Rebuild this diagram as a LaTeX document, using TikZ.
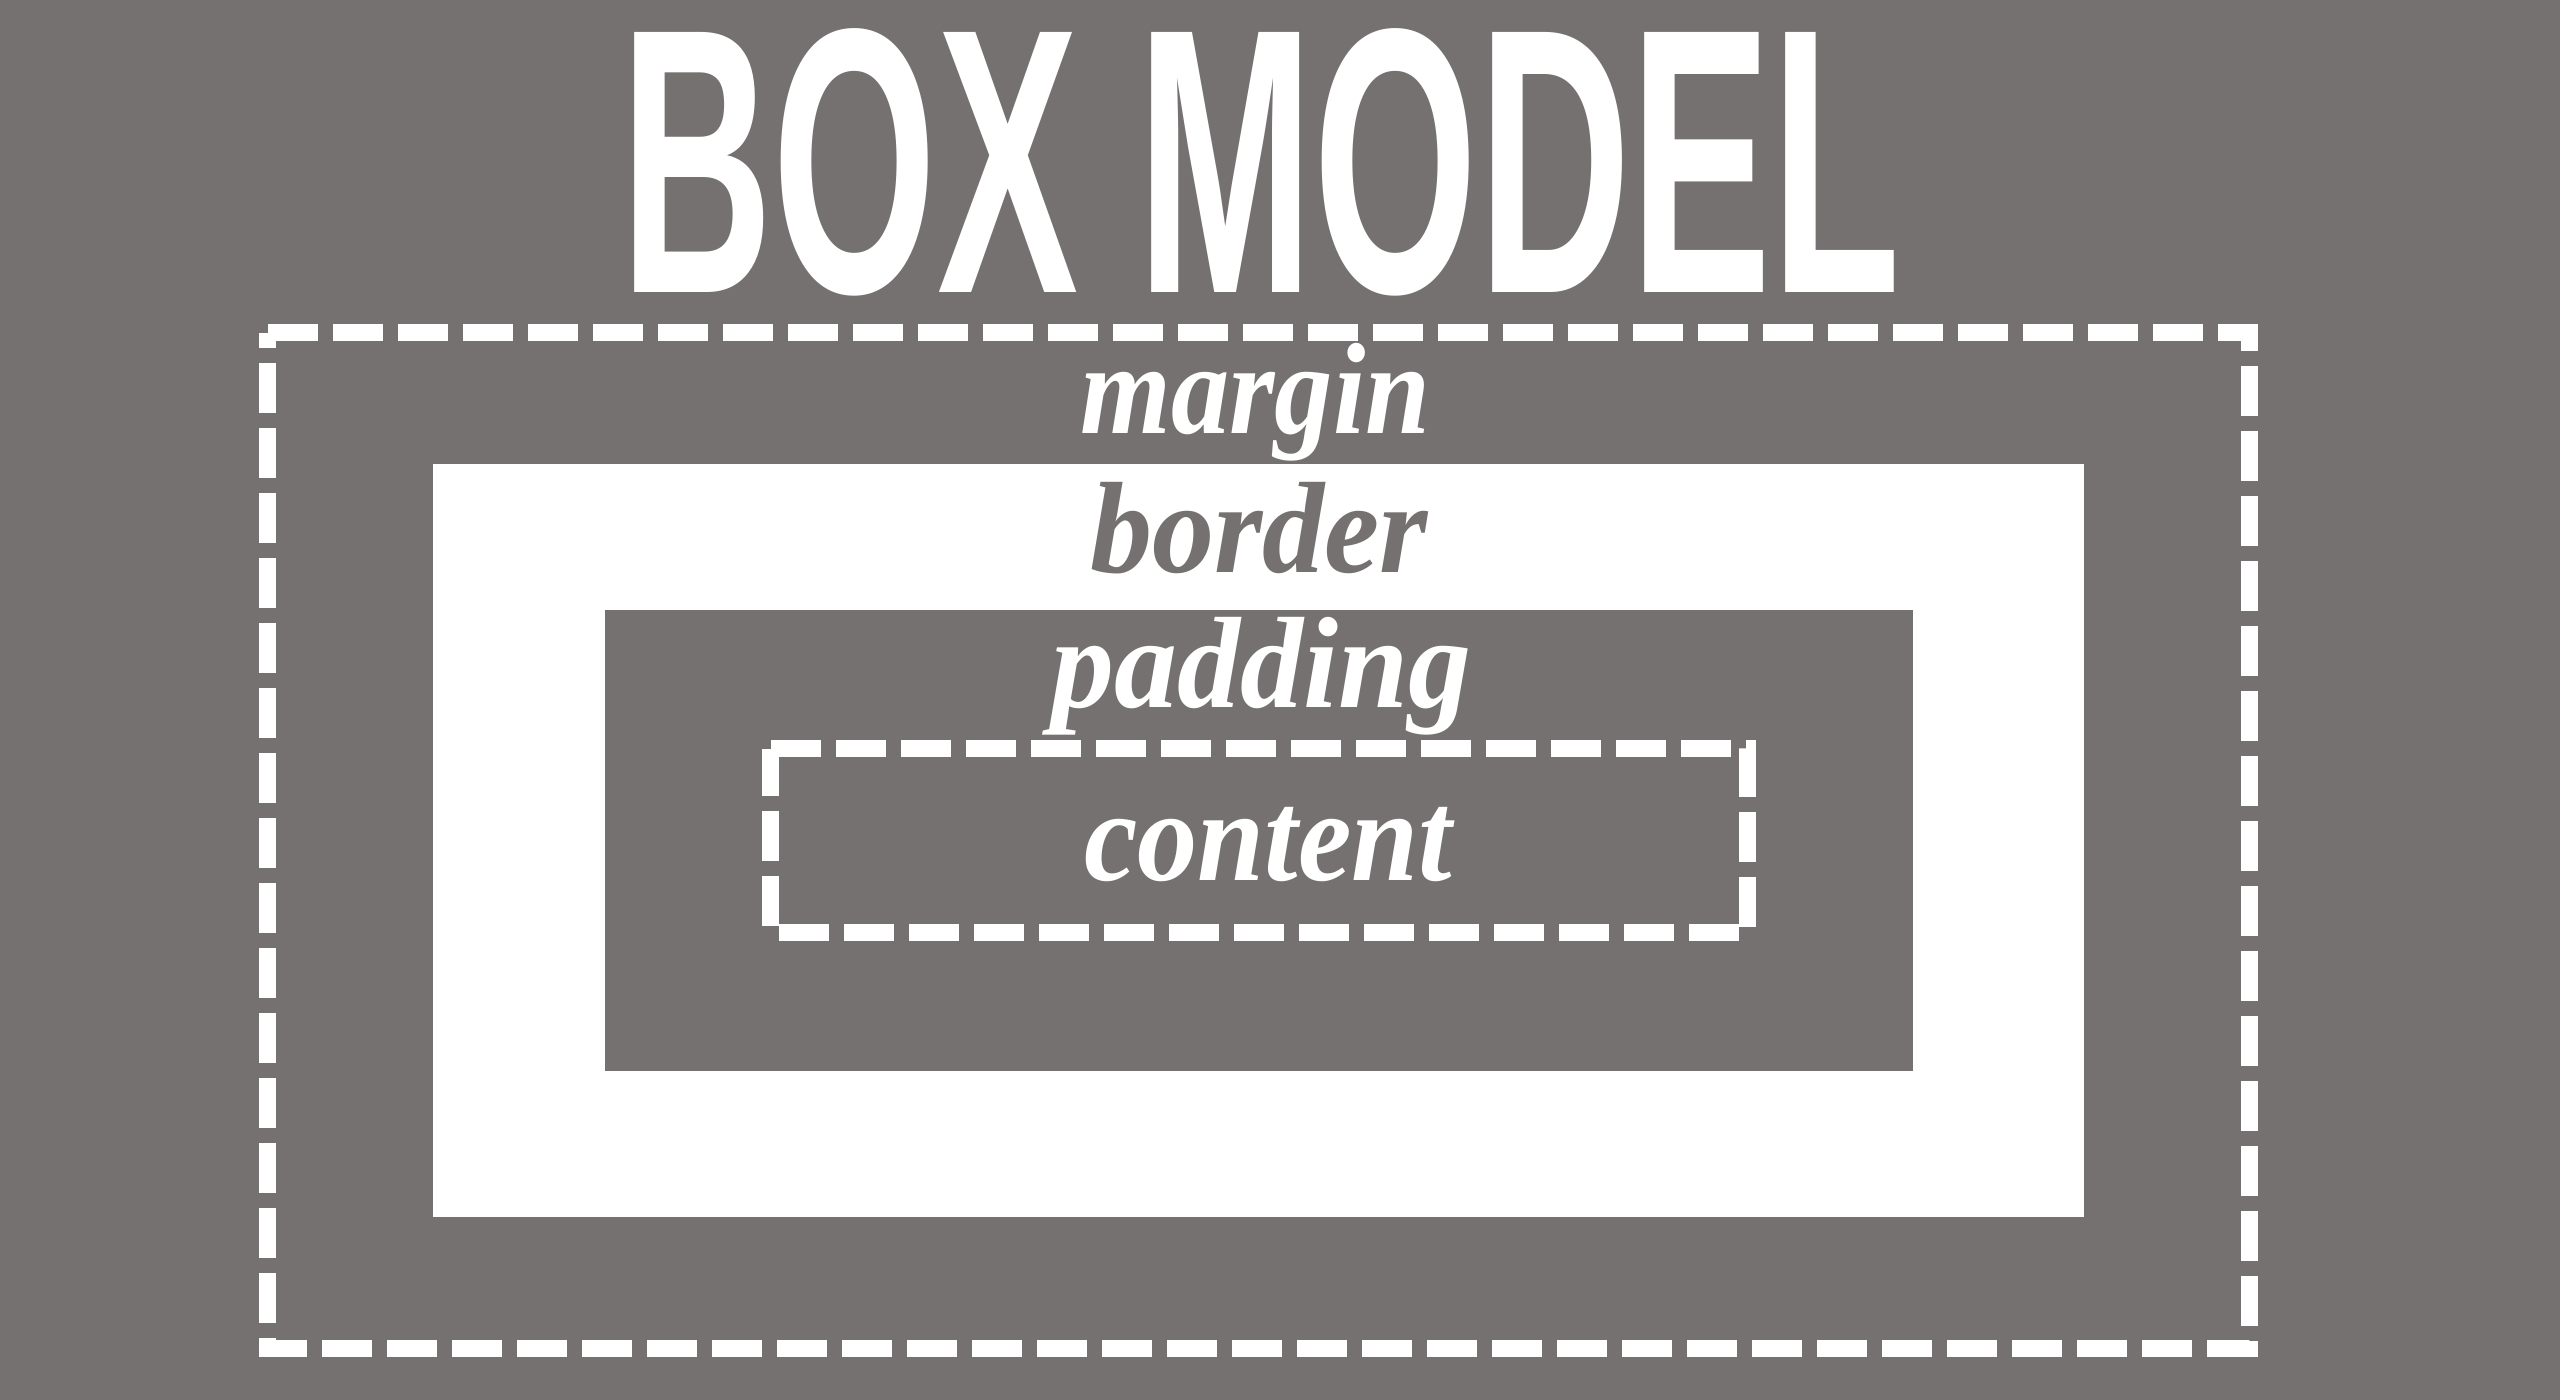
\documentclass[tikz,border=0pt]{standalone}
\usepackage{fontspec}
\usepackage{graphicx}
\newfontfamily\titlefont{Liberation Sans}
\newfontfamily\labelfont{Liberation Serif}
\definecolor{bggrey}{RGB}{117,113,112}
\begin{document}
\begin{tikzpicture}[x=1pt,y=-1pt,
  dashline/.style={draw=white,line width=17pt,dash pattern=on 50pt off 15pt,line join=miter,line cap=butt},
  lbl/.style={inner sep=0pt,anchor=base,font=\labelfont\bfseries\itshape\fontsize{130}{135}\selectfont}]
\useasboundingbox (0,0) rectangle (2560,1400);
\fill[bggrey] (0,0) rectangle (2560,1400);
% title
\node[inner sep=0pt,anchor=north west,text=white] (title) at (620,28)
  {\resizebox*{1280pt}{267pt}{\titlefont\bfseries BOX MODEL}};
% margin box (dashed)
\coordinate (m1) at (267.5,332.5);
\coordinate (m2) at (2249.5,332.5);
\coordinate (m3) at (2249.5,1348);
\coordinate (m4) at (267.5,1348);
\draw[dashline] (m1) -- (m2) -- (m3) -- (m4) -- cycle;
% border (white)
\fill[white] (433,464) rectangle (2084,1217);
% padding (grey)
\fill[bggrey] (605,610) rectangle (1913,1071);
% content box (dashed)
\coordinate (c1) at (770.5,748.5);
\coordinate (c2) at (1747.5,748.5);
\coordinate (c3) at (1747.5,932.5);
\coordinate (c4) at (770.5,932.5);
\draw[dashline] (c1) -- (c2) -- (c3) -- (c4) -- cycle;
% labels
\node[lbl,text=white] (margin) at (1255.5,433) {\resizebox{350pt}{\height}{margin}};
\node[lbl,text=bggrey] (border) at (1259,572) {\resizebox{338pt}{\height}{border}};
\node[lbl,text=white] (padding) at (1261.5,707) {\resizebox{420pt}{\height}{padding}};
\node[lbl,text=white] (content) at (1268,880) {\resizebox{368pt}{\height}{content}};
\end{tikzpicture}
\end{document}
